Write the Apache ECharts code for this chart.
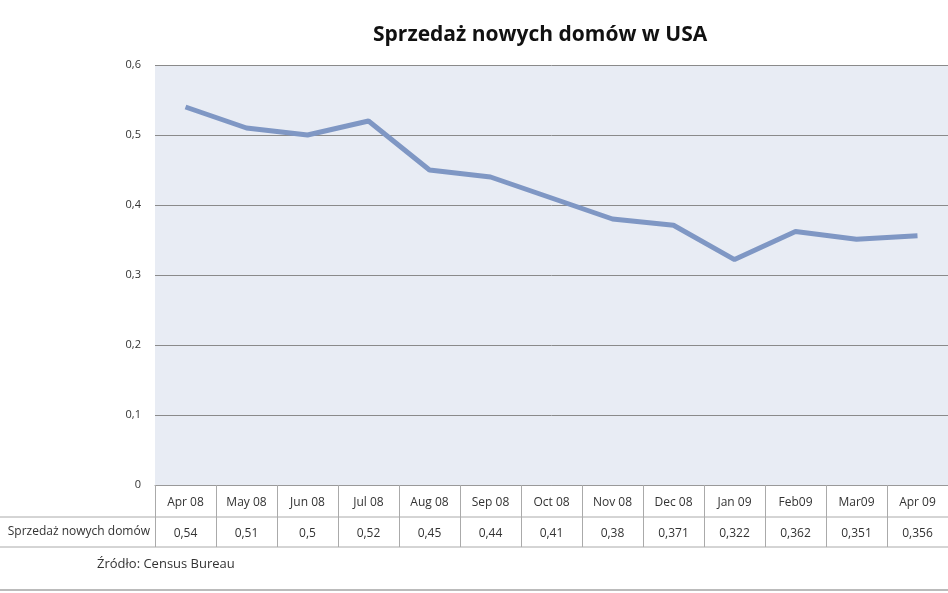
<!DOCTYPE html>
<html><head><meta charset="utf-8">
<script src="https://cdn.jsdelivr.net/npm/echarts@6/dist/echarts.min.js"></script>
<style>html,body{margin:0;padding:0;background:#fff}#c{width:948px;height:593px}</style>
</head><body><div id="c"></div>
<script>
// miesiące i sprzedaż (mln)
const months = ['Apr 08','May 08','Jun 08','Jul 08','Aug 08','Sep 08','Oct 08','Nov 08','Dec 08','Jan 09','Feb09','Mar09','Apr 09'];
const sales = [0.54, 0.51, 0.5, 0.52, 0.45, 0.44, 0.41, 0.38, 0.371, 0.322, 0.362, 0.351, 0.356];
const yTicks = [0, 0.1, 0.2, 0.3, 0.4, 0.5, 0.6];

const fmt = v => String(v).replace('.', ',');
const chart = echarts.init(document.getElementById('c'));
const font = 'Open Sans, DejaVu Sans, sans-serif';

chart.setOption({
  animation: false,
  title: {
    text: 'Sprzedaż nowych domów w USA', left: 368, top: 20,
    textStyle: { fontSize: 21, fontWeight: 'bold', color: '#111', fontFamily: font }
  },
  grid: { left: 155, top: 65, height: 420, right: -56, backgroundColor: '#e8ecf4', show: true, borderWidth: 0, containLabel: false },
  xAxis: {
    type: 'category', data: months, boundaryGap: true,
    axisLine: { lineStyle: { color: '#999' } },
    axisTick: { show: true, interval: 0, length: 62, lineStyle: { color: '#aaa' } },
    axisLabel: {
      interval: 0, margin: 2, fontFamily: font,
      formatter: (v, i) => '{a|' + v + '}\n{b|' + fmt(sales[i]) + '}',
      rich: {
        a: { fontSize: 12, color: '#333', lineHeight: 31, fontFamily: font },
        b: { fontSize: 12, color: '#333', lineHeight: 31, fontFamily: font }
      }
    }
  },
  yAxis: {
    type: 'value', min: yTicks[0], max: yTicks[yTicks.length - 1], interval: 0.1,
    axisLine: { show: false }, axisTick: { show: false },
    axisLabel: { formatter: v => fmt(+v.toFixed(1)), fontSize: 11, color: '#333', margin: 14, fontFamily: font },
    splitLine: { lineStyle: { color: '#8a8a8a' } }
  },
  series: [{
    type: 'line', data: sales, symbol: 'none',
    lineStyle: { color: '#7f97c4', width: 5 }
  }],
  graphic: [
    { type: 'line', shape: { x1: 0, y1: 517, x2: 948, y2: 517 }, style: { stroke: '#aaa', lineWidth: 1 } },
    { type: 'line', shape: { x1: 0, y1: 547, x2: 948, y2: 547 }, style: { stroke: '#aaa', lineWidth: 1 } },
    { type: 'line', shape: { x1: 0, y1: 590, x2: 948, y2: 590 }, style: { stroke: '#bbb', lineWidth: 2 } },
    { type: 'text', x: 150, y: 532, style: { text: 'Sprzedaż nowych domów', fontSize: 12, fill: '#333', fontFamily: font, textAlign: 'right', textVerticalAlign: 'middle' } },
    { type: 'text', x: 97, y: 564, style: { text: 'Źródło: Census Bureau', fontSize: 13, fill: '#333', fontFamily: font, textVerticalAlign: 'middle' } }
  ]
});
</script>
</body></html>
